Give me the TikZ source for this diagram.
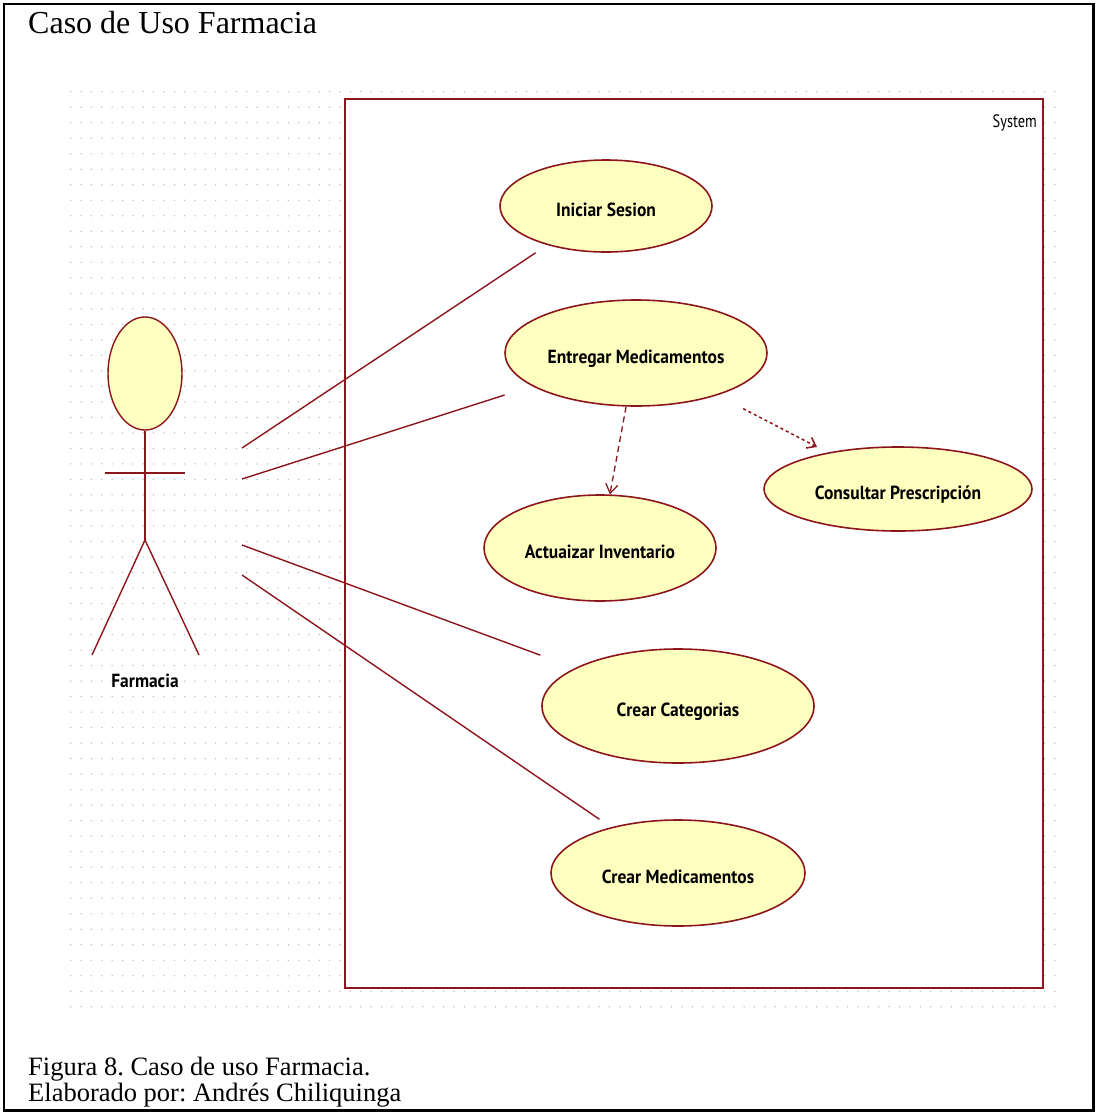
\documentclass[tikz,border=0pt]{standalone}
\usepackage{fontspec}
\setmainfont{Liberation Serif}
\newfontfamily\ucfont[FakeStretch=0.92]{PT Sans}
\newfontfamily\sysfont[FakeStretch=0.8]{PT Sans}
\usetikzlibrary{shapes.geometric,arrows.meta}
\definecolor{rose}{RGB}{140,22,28}
\definecolor{ucfill}{RGB}{255,255,192}
\definecolor{griddot}{RGB}{185,185,185}
\begin{document}
\frenchspacing
\begin{tikzpicture}[x=1pt,y=-1pt,
  usecase/.style={ellipse, draw=rose, line width=1.6pt, fill=ucfill, inner sep=0pt,
    text height=21pt, text depth=0pt,
    font=\ucfont\bfseries\fontsize{19}{22}\selectfont, text=black},
  assoc/.style={draw=rose, line width=1.4pt},
  dep/.style={draw=rose, line width=1.3pt, dash pattern=on 6pt off 4pt,
    -{Straight Barb[length=9pt,width=12pt,line width=1.3pt]}},
  depdot/.style={draw=rose, line width=1.5pt, dash pattern=on 3pt off 3pt,
    -{Straight Barb[length=8pt,width=12pt,line width=1.5pt]}},
  limb/.style={draw=rose, line width=1.4pt}]
\useasboundingbox (0,0) rectangle (1097,1114);
\fill[white] (0,0) rectangle (1097,1114);

% dotted drawing grid
\foreach \i in {0,...,95}
  \foreach \j in {0,...,59}
    \fill[griddot] (70.7+\i*10.36, 91.7+\j*15.51) circle (0.75);

% outer frame
\draw[black, line width=2.3pt] (4,3.7) rectangle (1093.5,1110.5);

% title and caption
\node[anchor=base west, font=\fontsize{32}{36}\selectfont, inner sep=0pt] (title) at (28,33) {Caso de Uso Farmacia};
\node[anchor=base west, font=\fontsize{26.5}{30}\selectfont, inner sep=0pt] (cap1) at (28,1075) {Figura 8. Caso de uso Farmacia.};
\node[anchor=base west, font=\fontsize{26.5}{30}\selectfont, inner sep=0pt] (cap2) at (28,1101) {Elaborado por: Andrés Chiliquinga};

% system boundary
\draw[rose, line width=1.8pt, fill=white] (345,99) rectangle (1043,988);
\node[anchor=base east, font=\sysfont\fontsize{18}{20}\selectfont, inner sep=0pt] (sys) at (1037,127) {System};

% use cases
\node[usecase, minimum width=212pt, minimum height=92pt] (uc1) at (606,206) {Iniciar Sesion};
\node[usecase, minimum width=262pt, minimum height=106pt] (uc2) at (636,353) {Entregar Medicamentos};
\node[usecase, minimum width=268pt, minimum height=84pt] (uc3) at (898,489) {Consultar Prescripción};
\node[usecase, minimum width=232pt, minimum height=106pt] (uc4) at (600,548) {Actuaizar Inventario};
\node[usecase, minimum width=272pt, minimum height=114pt] (uc5) at (678,706) {Crear Categorias};
\node[usecase, minimum width=254pt, minimum height=106pt] (uc6) at (678,873) {Crear Medicamentos};

% actor
\node[ellipse, draw=rose, line width=1.4pt, fill=ucfill, inner sep=0pt,
  minimum width=74pt, minimum height=113pt] (head) at (145,373.5) {};
\coordinate (hip) at (145,540);
\coordinate (handL) at (105,473);
\coordinate (handR) at (185,473);
\coordinate (footL) at (92,655);
\coordinate (footR) at (199,655);
\draw[limb] (head.south) -- (hip);
\draw[limb] (handL) -- (handR);
\draw[limb] (footL) -- (hip) -- (footR);
\node[anchor=base, font=\ucfont\bfseries\fontsize{19}{22}\selectfont, inner sep=0pt] (actor) at (145,687) {Farmacia};

% associations
\coordinate (p1) at (242,448);
\coordinate (p2) at (242,479);
\coordinate (p3) at (242,545);
\coordinate (p4) at (242,575);
\draw[assoc, shorten >=14pt] (p1) -- (uc1);
\draw[assoc, shorten >=29pt] (p2) -- (uc2);
\draw[assoc, shorten >=37pt] (p3) -- (uc5);
\draw[assoc, shorten >=14pt] (p4) -- (uc6);

% dependencies
\draw[dep] (uc2) -- (uc4);
\draw[depdot, shorten <=29pt, shorten >=12pt] (uc2) -- (uc3);
\end{tikzpicture}
\end{document}
